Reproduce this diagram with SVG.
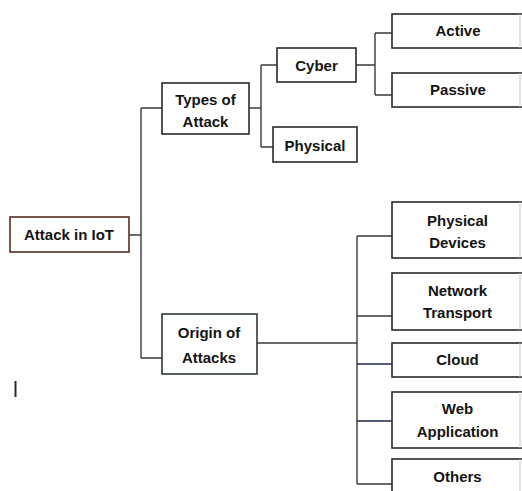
<svg xmlns="http://www.w3.org/2000/svg" width="522" height="491" viewBox="0 0 522 491">
<style>
.box{fill:#fff;stroke:#2a2a2a;stroke-width:1.6}
.r{fill:#fff;stroke:#2a2a2a;stroke-width:1.6}
.t{font-family:"Liberation Sans",Arial,sans-serif;font-weight:bold;font-size:15px;fill:#141414;text-anchor:middle}
.c{fill:none;stroke:#3a3a3a;stroke-width:1.4}
.n{stroke:#1f2a4a}
.edge{stroke:#c8c8c8;stroke-width:1}
</style>
<rect width="522" height="491" fill="#fff"/>
<g id="connectors">
<path class="c" d="M129 235H141M141 108V358M141 108H162M141 358H162"/>
<path class="c" d="M249 108H261M261 65V147M261 65H277M273 147H261"/>
<path class="c" d="M356 65H375M375 33V95M375 33H392M375 95H392"/>
<path class="c" d="M257 343H357M357 236V484M357 236H392M357 316H392M357 484H392"/>
<path class="c n" d="M357 364H392M357 421H392"/>
</g>
<g id="attack-in-iot"><rect class="box" x="10" y="217" width="119" height="35" style="stroke:#5a2c20"/><text class="t" x="69" y="239.5">Attack in IoT</text></g>
<g id="types-of-attack"><rect class="box" x="162" y="83" width="87" height="51"/><text class="t" x="205.5" y="105">Types of</text><text class="t" x="205.5" y="127">Attack</text></g>
<g id="cyber"><rect class="box" x="277" y="48" width="79" height="34"/><text class="t" x="316.5" y="71">Cyber</text></g>
<g id="physical"><rect class="box" x="273" y="127" width="84" height="35"/><text class="t" x="315" y="150.5">Physical</text></g>
<g id="active"><rect class="r" x="392" y="14" width="134" height="34"/><line class="edge" x1="520" y1="14" x2="520" y2="48"/><text class="t" x="458" y="36">Active</text></g>
<g id="passive"><rect class="r" x="392" y="73" width="134" height="34"/><line class="edge" x1="520" y1="73" x2="520" y2="107"/><text class="t" x="458" y="95">Passive</text></g>
<g id="origin-of-attacks"><rect class="box" x="162" y="314" width="95" height="60" style="stroke:#2e3a2e"/><text class="t" x="209" y="338">Origin of</text><text class="t" x="209" y="363">Attacks</text></g>
<g id="physical-devices"><rect class="r" x="392" y="202" width="134" height="56"/><line class="edge" x1="520" y1="202" x2="520" y2="258"/><text class="t" x="457.5" y="226">Physical</text><text class="t" x="457.5" y="248">Devices</text></g>
<g id="network-transport"><rect class="r" x="392" y="273" width="134" height="57"/><line class="edge" x1="520" y1="273" x2="520" y2="330"/><text class="t" x="457.5" y="296">Network</text><text class="t" x="457.5" y="318">Transport</text></g>
<g id="cloud"><rect class="r" x="392" y="343" width="134" height="34"/><line class="edge" x1="520" y1="343" x2="520" y2="377"/><text class="t" x="457.5" y="365">Cloud</text></g>
<g id="web-application"><rect class="r" x="392" y="392" width="134" height="56"/><line class="edge" x1="520" y1="392" x2="520" y2="448"/><text class="t" x="457.5" y="414">Web</text><text class="t" x="457.5" y="437">Application</text></g>
<g id="others"><rect class="r" x="392" y="459" width="134" height="40"/><line class="edge" x1="520" y1="459" x2="520" y2="491"/><text class="t" x="457.5" y="482">Others</text></g>
<rect x="14.5" y="381" width="2" height="16" fill="#2a2a2a"/>
</svg>
